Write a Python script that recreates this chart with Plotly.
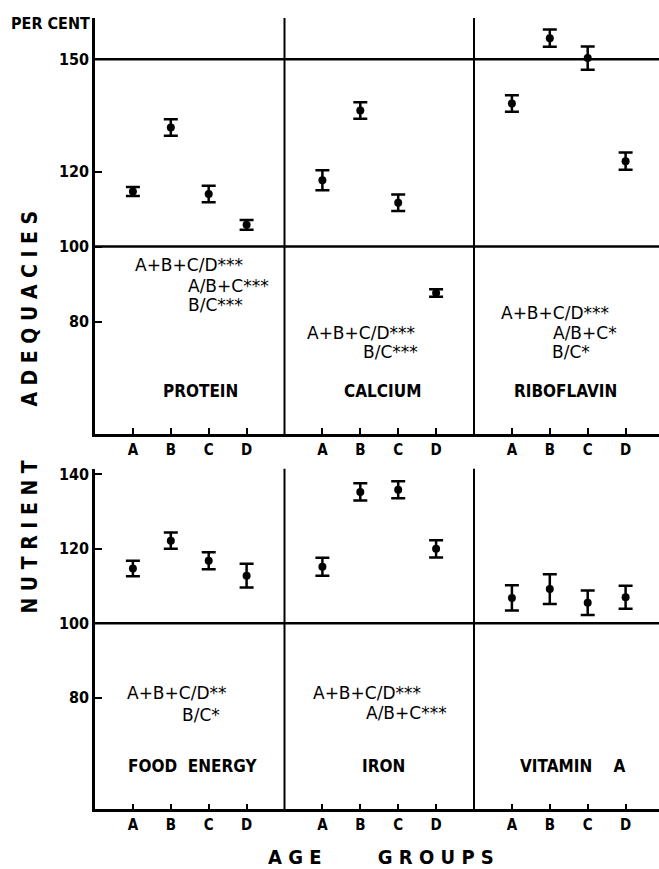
import plotly.graph_objects as go

# ---------------- data ----------------
groups = ["A", "B", "C", "D"]

top_nutrients = ["PROTEIN", "CALCIUM", "RIBOFLAVIN"]
top_means = [
    [114.7, 131.8, 114.0, 105.8],
    [117.7, 136.3, 111.7, 87.6],
    [138.2, 155.6, 150.3, 122.8],
]
top_err = [
    [1.2, 2.2, 2.2, 1.3],
    [2.7, 2.2, 2.2, 1.0],
    [2.2, 2.3, 3.1, 2.3],
]

bottom_nutrients = ["FOOD\u00a0\u00a0ENERGY", "IRON", "VITAMIN\u00a0\u00a0\u00a0\u00a0A"]
bottom_means = [
    [114.7, 122.2, 116.8, 112.8],
    [115.2, 135.3, 135.9, 120.0],
    [106.8, 109.2, 105.5, 107.0],
]
bottom_err = [
    [2.1, 2.2, 2.3, 3.2],
    [2.4, 2.3, 2.3, 2.3],
    [3.4, 4.0, 3.3, 3.1],
]

# significance notes: (text, x in group units, y value)
top_notes = [
    [("A+B+C/D***", 0.99, 95.2), ("A/B+C***", 2.39, 89.6), ("B/C***", 2.39, 84.4)],
    [("A+B+C/D***", 5.53, 77.0), ("B/C***", 7.02, 71.8)],
    [("A+B+C/D***", 10.67, 82.4), ("A/B+C*", 12.04, 77.0), ("B/C*", 12.0, 71.8)],
]
bottom_notes = [
    [("A+B+C/D**", 0.78, 81.2), ("B/C*", 2.23, 75.3)],
    [("A+B+C/D***", 5.70, 81.2), ("A/B+C***", 7.11, 75.8)],
    [],
]
top_label_pos = [(2.78, 61.6), (7.59, 61.4), (12.41, 61.4)]
bottom_label_pos = [(2.57, 61.6), (7.60, 61.6), (12.59, 61.6)]

top_yticks = [80, 100, 120, 150]
bottom_yticks = [80, 100, 120, 140]

# ---------------- figure ----------------
W, H = 659, 869
LEFT = 95
UNIT = 37.9
XMAX = (W - LEFT) / UNIT

BOLD = "Liberation Sans Narrow, DejaVu Sans Condensed, Liberation Sans, Arial, sans-serif"
NOTE = "DejaVu Sans, sans-serif"

fig = go.Figure()


def xpos(panel, i):
    return panel * 5 + i + 1


tickvals = [xpos(p, i) for p in range(3) for i in range(4)]
ticktext = groups * 3

for row, (means, errs, xa, ya) in enumerate([
    (top_means, top_err, "x2", "y2"),
    (bottom_means, bottom_err, "x", "y"),
]):
    for p in range(3):
        fig.add_trace(go.Scatter(
            x=[xpos(p, i) for i in range(4)],
            y=means[p],
            mode="markers",
            marker=dict(color="black", size=8),
            error_y=dict(type="data", array=errs[p], visible=True,
                         thickness=2.5, width=7, color="black"),
            xaxis=xa, yaxis=ya, showlegend=False, hoverinfo="skip",
        ))

top_dom = [1 - 432 / H, 1 - 14 / H]
bot_dom = [1 - 809 / H, 1 - 467 / H]

xcommon = dict(range=[0, XMAX], tickvals=tickvals, ticktext=ticktext,
               ticks="inside", ticklen=6, tickwidth=2, tickcolor="black",
               showline=True, linewidth=2.5, linecolor="black",
               showgrid=False, zeroline=False,
               tickfont=dict(family=BOLD, size=15, color="black", weight="bold"))
ycommon = dict(ticks="inside", ticklen=7, tickwidth=2, tickcolor="black",
               showline=True, linewidth=2.5, linecolor="black",
               showgrid=False, zeroline=False,
               tickfont=dict(family=BOLD, size=16, color="black", weight="bold"))

fig.update_layout(
    width=W, height=H,
    margin=dict(l=LEFT, r=0, t=0, b=0),
    paper_bgcolor="white", plot_bgcolor="white",
    xaxis=dict(anchor="y", domain=[0, 1], **xcommon),
    yaxis=dict(anchor="x", domain=bot_dom, range=[50, 141.5],
               tickvals=bottom_yticks, **ycommon),
    xaxis2=dict(anchor="y2", domain=[0, 1], **xcommon),
    yaxis2=dict(anchor="x2", domain=top_dom, range=[50, 161],
                tickvals=top_yticks, **ycommon),
)

shapes = []
# reference lines
for yv in [100, 150]:
    shapes.append(dict(type="line", xref="x2 domain", yref="y2",
                       x0=0, x1=1, y0=yv, y1=yv,
                       line=dict(color="black", width=2.5)))
shapes.append(dict(type="line", xref="x domain", yref="y",
                   x0=0, x1=1, y0=100, y1=100,
                   line=dict(color="black", width=2.5)))
# panel dividers
for xv in [5, 10]:
    shapes.append(dict(type="line", xref="x2", yref="y2 domain",
                       x0=xv, x1=xv, y0=0, y1=1,
                       line=dict(color="black", width=2)))
    shapes.append(dict(type="line", xref="x", yref="y domain",
                       x0=xv, x1=xv, y0=0, y1=1,
                       line=dict(color="black", width=2)))
fig.update_layout(shapes=shapes)

ann = []
for notes, xa, ya in [(top_notes, "x2", "y2"), (bottom_notes, "x", "y")]:
    for pn in notes:
        for txt, xv, yv in pn:
            ann.append(dict(text=txt, x=xv, y=yv, xref=xa, yref=ya,
                            xanchor="left", yanchor="middle", showarrow=False,
                            font=dict(family=NOTE, size=17, color="black")))
for names, pos, xa, ya in [(top_nutrients, top_label_pos, "x2", "y2"),
                            (bottom_nutrients, bottom_label_pos, "x", "y")]:
    for nm, (xv, yv) in zip(names, pos):
        ann.append(dict(text=nm, x=xv, y=yv, xref=xa, yref=ya,
                        xanchor="center", yanchor="middle", showarrow=False,
                        font=dict(family=BOLD, size=17, color="black", weight="bold")))

ann.append(dict(text="PER CENT", xref="paper", yref="paper",
                x=(50 - LEFT) / (W - LEFT), y=1 - 20 / H,
                xanchor="center", yanchor="middle", showarrow=False,
                font=dict(family=BOLD, size=16, color="black", weight="bold")))


def spaced(s):
    return "\u00a0".join(list(s))


ann.append(dict(text=spaced("ADEQUACIES"), xref="paper", yref="paper",
                x=(30 - LEFT) / (W - LEFT), y=1 - 306 / H, textangle=-90,
                xanchor="center", yanchor="middle", showarrow=False,
                font=dict(family=BOLD, size=21, color="black", weight="bold")))
ann.append(dict(text=spaced("NUTRIENT"), xref="paper", yref="paper",
                x=(30 - LEFT) / (W - LEFT), y=1 - 536 / H, textangle=-90,
                xanchor="center", yanchor="middle", showarrow=False,
                font=dict(family=BOLD, size=21, color="black", weight="bold")))
ann.append(dict(text=spaced("AGE") + "\u00a0" * 9 + spaced("GROUPS"),
                xref="paper", yref="paper",
                x=(381 - LEFT) / (W - LEFT), y=1 - 857 / H,
                xanchor="center", yanchor="middle", showarrow=False,
                font=dict(family=BOLD, size=20, color="black", weight="bold")))

fig.update_layout(annotations=ann)

fig.write_html("out.html", config={"displayModeBar": False},
               post_script="document.body.style.margin='0px';document.body.style.overflow='hidden';")
